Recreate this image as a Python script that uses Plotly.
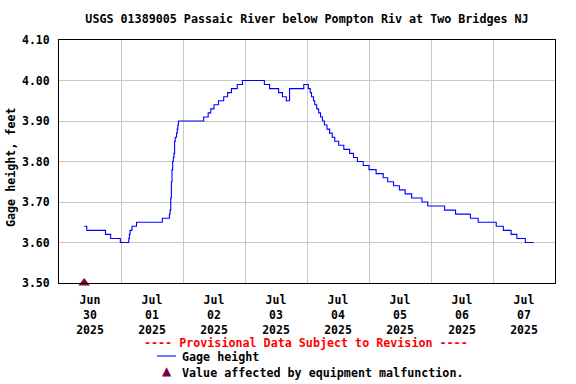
import plotly.graph_objects as go

# Change points of the gage-height record (value holds until next time)
times = [
    "2025-06-30 09:45", "2025-06-30 10:45", "2025-06-30 18:00", "2025-06-30 20:00",
    "2025-06-30 23:45", "2025-07-01 03:00", "2025-07-01 03:15", "2025-07-01 03:30",
    "2025-07-01 04:15", "2025-07-01 06:00", "2025-07-01 16:00", "2025-07-01 18:45",
    "2025-07-01 19:00", "2025-07-01 19:15", "2025-07-01 19:30", "2025-07-01 19:45",
    "2025-07-01 20:00", "2025-07-01 20:15", "2025-07-01 20:30", "2025-07-01 20:45",
    "2025-07-01 21:00", "2025-07-01 21:30", "2025-07-01 21:45", "2025-07-01 22:00",
    "2025-07-01 22:15", "2025-07-02 08:00", "2025-07-02 09:45", "2025-07-02 10:45",
    "2025-07-02 12:00", "2025-07-02 13:45", "2025-07-02 15:45", "2025-07-02 17:15",
    "2025-07-02 18:45", "2025-07-02 21:00", "2025-07-02 23:00", "2025-07-03 07:30",
    "2025-07-03 09:30", "2025-07-03 13:00", "2025-07-03 14:30", "2025-07-03 16:00",
    "2025-07-03 17:15", "2025-07-03 22:45", "2025-07-04 00:30", "2025-07-04 01:15",
    "2025-07-04 01:45", "2025-07-04 02:30", "2025-07-04 03:00", "2025-07-04 03:45",
    "2025-07-04 04:30", "2025-07-04 05:15", "2025-07-04 06:00", "2025-07-04 06:45",
    "2025-07-04 07:45", "2025-07-04 08:45", "2025-07-04 09:45", "2025-07-04 10:45",
    "2025-07-04 12:15", "2025-07-04 14:15", "2025-07-04 16:30", "2025-07-04 18:00",
    "2025-07-04 19:30", "2025-07-04 21:45", "2025-07-05 00:00", "2025-07-05 02:45",
    "2025-07-05 05:30", "2025-07-05 07:15", "2025-07-05 09:30", "2025-07-05 11:45",
    "2025-07-05 14:00", "2025-07-05 16:30", "2025-07-05 20:30", "2025-07-05 22:45",
    "2025-07-06 05:15", "2025-07-06 09:30", "2025-07-06 15:15", "2025-07-06 18:15",
    "2025-07-07 01:15", "2025-07-07 04:00", "2025-07-07 07:00", "2025-07-07 09:15",
    "2025-07-07 12:30", "2025-07-07 15:45",
]
gage_ft = [
    3.64, 3.63, 3.62, 3.61,
    3.60, 3.61, 3.62, 3.63,
    3.64, 3.65, 3.66, 3.67,
    3.68, 3.71, 3.75, 3.78,
    3.80, 3.81, 3.82, 3.85,
    3.86, 3.87, 3.88, 3.89,
    3.90, 3.91, 3.92, 3.93,
    3.94, 3.95, 3.96, 3.97,
    3.98, 3.99, 4.00, 3.99,
    3.98, 3.97, 3.96, 3.95,
    3.98, 3.99, 3.98, 3.97,
    3.96, 3.95, 3.94, 3.93,
    3.92, 3.91, 3.90, 3.89,
    3.88, 3.87, 3.86, 3.85,
    3.84, 3.83, 3.82, 3.81,
    3.80, 3.79, 3.78, 3.77,
    3.76, 3.75, 3.74, 3.73,
    3.72, 3.71, 3.70, 3.69,
    3.68, 3.67, 3.66, 3.65,
    3.64, 3.63, 3.62, 3.61,
    3.60, 3.60,
]

malfunction_times = ["2025-06-30 09:45"]
malfunction_vals = [3.50]

title_text = "USGS 01389005 Passaic River below Pompton Riv at Two Bridges NJ"
y_title = "Gage height, feet"
x_range = ["2025-06-30 00:00", "2025-07-08 00:00"]
y_range = [3.50, 4.10]

FONT = "DejaVu Sans Mono"
MAROON = "#800040"

fig = go.Figure()
fig.add_trace(go.Scatter(
    x=times, y=gage_ft, mode="lines", line=dict(color="#0000ff", width=1.1, shape="hv"),
    showlegend=False, hoverinfo="x+y",
))
fig.add_trace(go.Scatter(
    x=malfunction_times, y=malfunction_vals, mode="markers",
    marker=dict(symbol="triangle-up", size=10, color=MAROON),
    cliponaxis=False, showlegend=False,
))

fig.update_layout(
    width=576, height=384,
    margin=dict(l=59, r=21, t=40, b=101),
    paper_bgcolor="white", plot_bgcolor="white",
    font=dict(family=FONT, size=11.5, color="black", weight="bold"),
    title=dict(text=title_text, x=0.5, xref="paper", xanchor="center",
               y=1 - 19 / 384, yref="container", yanchor="middle",
               font=dict(family=FONT, size=11.7, color="black", weight="bold")),
)
fig.update_xaxes(
    range=x_range, type="date",
    tick0="2025-06-30", dtick=86400000, ticklabelmode="period",
    tickformat="%b<br>%d<br>%Y",
    showgrid=True, gridcolor="#c8c8c8", gridwidth=1,
    showline=True, linecolor="black", linewidth=1, mirror=True,
    ticks="", ticklabelstandoff=6,
    tickfont=dict(family=FONT, size=11.5, color="black", weight="bold"),
    zeroline=False,
)
fig.update_yaxes(
    range=y_range, dtick=0.1, tick0=3.5, tickformat=".2f",
    showgrid=True, gridcolor="#c8c8c8", gridwidth=1,
    showline=True, linecolor="black", linewidth=1, mirror=True,
    ticks="", ticklabelstandoff=6,
    tickfont=dict(family=FONT, size=11.5, color="black", weight="bold"),
    zeroline=False,
)

# Y axis title
fig.add_annotation(text=y_title, xref="paper", yref="paper",
                   x=(11 - 59) / 496, y=(283 - 167) / 243, textangle=-90,
                   showarrow=False, xanchor="center", yanchor="middle",
                   font=dict(family=FONT, size=11.7, color="black", weight="bold"))

# Legend-like footer
fig.add_annotation(text="---- Provisional Data Subject to Revision ----",
                   xref="paper", yref="paper", x=(306 - 59) / 496, y=(283 - 343) / 243,
                   showarrow=False, xanchor="center", yanchor="middle",
                   font=dict(family=FONT, size=11.7, color="#ff0000", weight="bold"))
fig.add_shape(type="line", xref="paper", yref="paper",
              x0=(157 - 59) / 496, x1=(176 - 59) / 496,
              y0=(283 - 356) / 243, y1=(283 - 356) / 243,
              line=dict(color="#0000ff", width=1.1))
fig.add_annotation(text="Gage height", xref="paper", yref="paper",
                   x=(180 - 59) / 496, y=(283 - 357) / 243,
                   showarrow=False, xanchor="left", yanchor="middle",
                   font=dict(family=FONT, size=11.7, color="black", weight="bold"))
fig.add_annotation(text="▲", xref="paper", yref="paper",
                   x=(167 - 59) / 496, y=(283 - 371) / 243,
                   showarrow=False, xanchor="center", yanchor="middle",
                   font=dict(family="DejaVu Sans", size=12, color=MAROON))
fig.add_annotation(text="Value affected by equipment malfunction.", xref="paper", yref="paper",
                   x=(180 - 59) / 496, y=(283 - 373) / 243,
                   showarrow=False, xanchor="left", yanchor="middle",
                   font=dict(family=FONT, size=11.7, color="black", weight="bold"))

fig.write_html("out.html", config={"displayModeBar": False},
               post_script="document.body.style.margin='0';document.body.style.padding='0';")
